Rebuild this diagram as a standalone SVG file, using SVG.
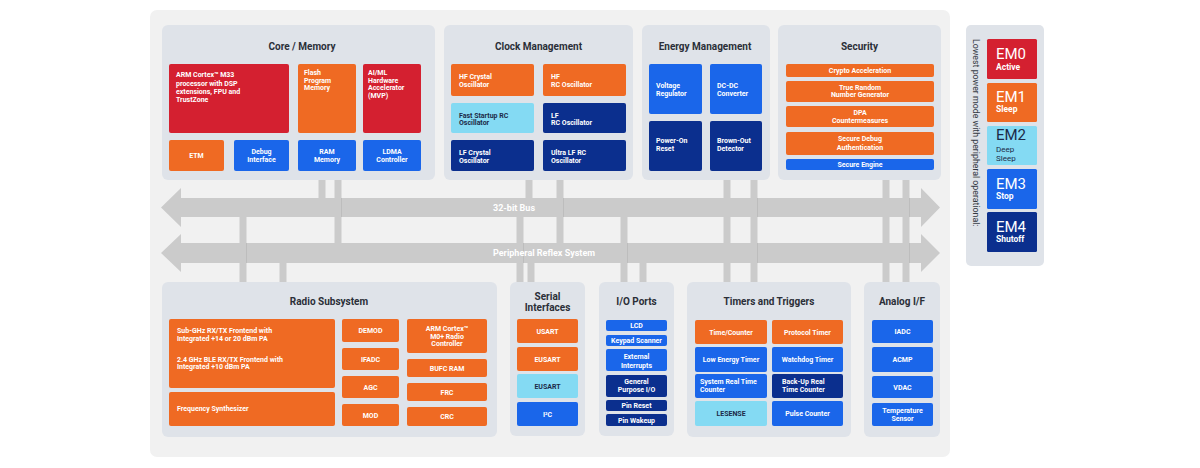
<svg xmlns="http://www.w3.org/2000/svg" width="1200" height="468" viewBox="0 0 1200 468">
<style>
.panel{fill:#dfe3e9}
.red{fill:#d42030}.org{fill:#ef6a23}.blu{fill:#1a66ea}.nav{fill:#0b2f8e}.cya{fill:#84daf3}
text{font-family:Roboto,"Liberation Sans",Arial,sans-serif}
.title{font-size:10px;font-weight:700;fill:#2b2f38;text-anchor:middle}
.t{font-size:7px;font-weight:700;fill:#ffffff}
.c{text-anchor:middle}
.d{fill:#1c2a48}
.bus{fill:#cbcbcb}
.vl{stroke:#cbcbcb;stroke-width:7;fill:none}
.edge{stroke:#b9b9b9;stroke-width:0.8;fill:none}
.bt{font-size:9px;font-weight:700;fill:#ffffff}
.em{font-size:15px;font-weight:400;fill:#ffffff}
.ems{font-size:8.5px;font-weight:700;fill:#ffffff}
</style>
<rect x="0" y="0" width="1200" height="468" fill="#ffffff"/>
<rect id="chip" x="150" y="10" width="800" height="447" rx="7" fill="#f1f1f1"/>

<g id="connectors">
  <line class="vl" x1="322" y1="179" x2="322" y2="199"/>
  <line class="vl" x1="338" y1="179" x2="338" y2="245"/>
  <line class="vl" x1="529" y1="179" x2="529" y2="199"/>
  <line class="vl" x1="560" y1="179" x2="560" y2="245"/>
  <line class="vl" x1="727" y1="179" x2="727" y2="283"/>
  <line class="vl" x1="754" y1="179" x2="754" y2="283"/>
  <line class="vl" x1="886" y1="179" x2="886" y2="283"/>
  <line class="vl" x1="906" y1="179" x2="906" y2="283"/>
  <line class="vl" x1="243" y1="215" x2="243" y2="283"/>
  <line class="vl" x1="283" y1="261" x2="283" y2="283"/>
  <line class="vl" x1="520" y1="215" x2="520" y2="283"/>
  <line class="vl" x1="531" y1="261" x2="531" y2="283"/>
  <line class="vl" x1="624" y1="215" x2="624" y2="283"/>
  <line class="vl" x1="643" y1="261" x2="643" y2="283"/>
  <polygon id="bus32" class="bus" points="161,207.5 181,188 181,198 921,198 921,188 940,207.5 921,227 921,217 181,217 181,227"/>
  <polygon id="prs" class="bus" points="161,253 181,234 181,243 921,243 921,234 940,253 921,272 921,263 181,263 181,272"/>
  <line class="edge" x1="341.5" y1="198" x2="341.5" y2="217"/>
  <line class="edge" x1="563.5" y1="198" x2="563.5" y2="217"/>
  <line class="edge" x1="757.5" y1="198" x2="757.5" y2="217"/>
  <line class="edge" x1="909.5" y1="198" x2="909.5" y2="217"/>
  <line class="edge" x1="246.5" y1="243" x2="246.5" y2="263"/>
  <line class="edge" x1="523.5" y1="243" x2="523.5" y2="263"/>
  <line class="edge" x1="627.5" y1="243" x2="627.5" y2="263"/>
  <line class="edge" x1="757.5" y1="243" x2="757.5" y2="263"/>
  <line class="edge" x1="909.5" y1="243" x2="909.5" y2="263"/>
  <text class="bt" x="493" y="210.5">32-bit Bus</text>
  <text class="bt" x="493" y="256">Peripheral Reflex System</text>
</g>

<g id="core-memory">
  <rect class="panel" x="162" y="25" width="273" height="155" rx="6"/>
  <text class="title" x="302" y="49.5">Core / Memory</text>
  <g id="arm-m33"><rect class="red" x="169" y="64" width="120" height="69" rx="2"/>
    <text class="t" x="176" y="77">ARM Cortex™ M33</text><text class="t" x="176" y="85.5">processor with DSP</text><text class="t" x="176" y="94">extensions, FPU and</text><text class="t" x="176" y="102">TrustZone</text></g>
  <g id="flash"><rect class="org" x="298" y="64" width="58" height="69" rx="2"/>
    <text class="t" x="304" y="74.5">Flash</text><text class="t" x="304" y="82.5">Program</text><text class="t" x="304" y="90">Memory</text></g>
  <g id="aiml"><rect class="red" x="363" y="64" width="58" height="69" rx="2"/>
    <text class="t" x="368" y="74.5">AI/ML</text><text class="t" x="368" y="82.5">Hardware</text><text class="t" x="368" y="90">Accelerator</text><text class="t" x="368" y="98">(MVP)</text></g>
  <g id="etm"><rect class="org" x="169" y="140" width="55" height="31" rx="2"/>
    <text class="t c" x="196.5" y="157.5">ETM</text></g>
  <g id="debug"><rect class="blu" x="234" y="140" width="55" height="31" rx="2"/>
    <text class="t c" x="261.5" y="153.5">Debug</text><text class="t c" x="261.5" y="161.5">Interface</text></g>
  <g id="ram"><rect class="blu" x="298" y="140" width="58" height="31" rx="2"/>
    <text class="t c" x="327" y="153.5">RAM</text><text class="t c" x="327" y="161.5">Memory</text></g>
  <g id="ldma"><rect class="blu" x="363" y="140" width="58" height="31" rx="2"/>
    <text class="t c" x="392" y="153.5">LDMA</text><text class="t c" x="392" y="161.5">Controller</text></g>
</g>

<g id="clock-management">
  <rect class="panel" x="444" y="25" width="189" height="155" rx="6"/>
  <text class="title" x="538.5" y="49.5">Clock Management</text>
  <g id="hfxo"><rect class="org" x="451" y="64" width="83" height="32" rx="2"/>
    <text class="t" x="459" y="79">HF Crystal</text><text class="t" x="459" y="86.5">Oscillator</text></g>
  <g id="hfrco"><rect class="org" x="543" y="64" width="83" height="32" rx="2"/>
    <text class="t" x="551" y="79">HF</text><text class="t" x="551" y="86.5">RC Oscillator</text></g>
  <g id="fsrco"><rect class="cya" x="451" y="103" width="83" height="30" rx="2"/>
    <text class="t d" x="459" y="117.5">Fast Startup RC</text><text class="t d" x="459" y="124.5">Oscillator</text></g>
  <g id="lfrco"><rect class="nav" x="543" y="103" width="83" height="30" rx="2"/>
    <text class="t" x="551" y="117.5">LF</text><text class="t" x="551" y="124.5">RC Oscillator</text></g>
  <g id="lfxo"><rect class="nav" x="451" y="140" width="83" height="31" rx="2"/>
    <text class="t" x="459" y="154.5">LF Crystal</text><text class="t" x="459" y="162.5">Oscillator</text></g>
  <g id="ulfrco"><rect class="nav" x="543" y="140" width="83" height="31" rx="2"/>
    <text class="t" x="551" y="154.5">Ultra LF RC</text><text class="t" x="551" y="162.5">Oscillator</text></g>
</g>

<g id="energy-management">
  <rect class="panel" x="642" y="25" width="128" height="155" rx="6"/>
  <text class="title" x="705" y="49.5">Energy Management</text>
  <g id="vreg"><rect class="blu" x="649" y="64" width="53" height="50" rx="2"/>
    <text class="t" x="656" y="87.5">Voltage</text><text class="t" x="656" y="95.5">Regulator</text></g>
  <g id="dcdc"><rect class="blu" x="710" y="64" width="52" height="50" rx="2"/>
    <text class="t" x="717" y="87.5">DC-DC</text><text class="t" x="717" y="95.5">Converter</text></g>
  <g id="por"><rect class="nav" x="649" y="121" width="53" height="50" rx="2"/>
    <text class="t" x="656" y="143">Power-On</text><text class="t" x="656" y="150.5">Reset</text></g>
  <g id="bod"><rect class="nav" x="710" y="121" width="52" height="50" rx="2"/>
    <text class="t" x="717" y="143">Brown-Out</text><text class="t" x="717" y="150.5">Detector</text></g>
</g>

<g id="security">
  <rect class="panel" x="778" y="25" width="163" height="155" rx="6"/>
  <text class="title" x="859.5" y="49.5">Security</text>
  <g id="crypto"><rect class="org" x="786" y="64" width="148" height="13" rx="2"/>
    <text class="t c" x="860" y="73">Crypto Acceleration</text></g>
  <g id="trng"><rect class="org" x="786" y="81" width="148" height="21" rx="2"/>
    <text class="t c" x="860" y="89.5">True Random</text><text class="t c" x="860" y="96.5">Number Generator</text></g>
  <g id="dpa"><rect class="org" x="786" y="106" width="148" height="21" rx="2"/>
    <text class="t c" x="860" y="114.5">DPA</text><text class="t c" x="860" y="122.5">Countermeasures</text></g>
  <g id="sda"><rect class="org" x="786" y="132" width="148" height="23" rx="2"/>
    <text class="t c" x="860" y="141">Secure Debug</text><text class="t c" x="860" y="149.5">Authentication</text></g>
  <g id="se"><rect class="blu" x="786" y="159" width="148" height="11" rx="2"/>
    <text class="t c" x="860" y="167">Secure Engine</text></g>
</g>

<g id="energy-modes">
  <rect class="panel" x="966" y="25" width="78" height="241" rx="5"/>
  <text x="972.5" y="39" transform="rotate(90 972.5 39)" style="font-size:8.8px;fill:#333842">Lowest power mode with peripheral operational:</text>
  <g id="em0"><rect class="red" x="987" y="39" width="50" height="40" rx="1.5"/>
    <text class="em" x="996" y="59">EM0</text><text class="ems" x="996" y="70">Active</text></g>
  <g id="em1"><rect class="org" x="987" y="83" width="50" height="39" rx="1.5"/>
    <text class="em" x="996" y="102">EM1</text><text class="ems" x="996" y="112">Sleep</text></g>
  <g id="em2"><rect class="cya" x="987" y="126" width="50" height="39" rx="1.5"/>
    <text class="em" x="996" y="140" style="fill:#1c2a48">EM2</text><text x="996" y="151.5" style="font-size:8px;fill:#1c2a48">Deep</text><text x="996" y="160.5" style="font-size:8px;fill:#1c2a48">Sleep</text></g>
  <g id="em3"><rect class="blu" x="987" y="169" width="50" height="40" rx="1.5"/>
    <text class="em" x="996" y="188.5">EM3</text><text class="ems" x="996" y="198.5">Stop</text></g>
  <g id="em4"><rect class="nav" x="987" y="212" width="50" height="40" rx="1.5"/>
    <text class="em" x="996" y="232">EM4</text><text class="ems" x="996" y="242">Shutoff</text></g>
</g>

<g id="radio-subsystem">
  <rect class="panel" x="162" y="282" width="335" height="155" rx="6"/>
  <text class="title" x="329" y="305">Radio Subsystem</text>
  <g id="frontend"><rect class="org" x="169" y="319" width="166" height="69" rx="2"/>
    <text class="t" x="177" y="333">Sub-GHz RX/TX Frontend with</text><text class="t" x="177" y="341">Integrated +14 or 20 dBm PA</text>
    <text class="t" x="177" y="361.5">2.4 GHz BLE RX/TX Frontend with</text><text class="t" x="177" y="369">Integrated +10 dBm PA</text></g>
  <g id="synth"><rect class="org" x="169" y="392" width="166" height="34" rx="2"/>
    <text class="t" x="177" y="411">Frequency Synthesizer</text></g>
  <g id="demod"><rect class="org" x="342" y="319" width="57" height="23" rx="2"/><text class="t c" x="370.5" y="333">DEMOD</text></g>
  <g id="ifadc"><rect class="org" x="342" y="348" width="57" height="22" rx="2"/><text class="t c" x="370.5" y="361.5">IFADC</text></g>
  <g id="agc"><rect class="org" x="342" y="376" width="57" height="22" rx="2"/><text class="t c" x="370.5" y="389.5">AGC</text></g>
  <g id="mod"><rect class="org" x="342" y="404" width="57" height="22" rx="2"/><text class="t c" x="370.5" y="417.5">MOD</text></g>
  <g id="m0"><rect class="org" x="407" y="319" width="80" height="34" rx="2"/>
    <text class="t c" x="447" y="330.5">ARM Cortex™</text><text class="t c" x="447" y="338.5">M0+ Radio</text><text class="t c" x="447" y="346">Controller</text></g>
  <g id="bufc"><rect class="org" x="407" y="359" width="80" height="18" rx="2"/><text class="t c" x="447" y="370.5">BUFC RAM</text></g>
  <g id="frc"><rect class="org" x="407" y="383" width="80" height="18" rx="2"/><text class="t c" x="447" y="394.5">FRC</text></g>
  <g id="crc"><rect class="org" x="407" y="407" width="80" height="19" rx="2"/><text class="t c" x="447" y="419">CRC</text></g>
</g>

<g id="serial-interfaces">
  <rect class="panel" x="510" y="282" width="75" height="154" rx="6"/>
  <text class="title" x="547.5" y="299.5">Serial</text><text class="title" x="547.5" y="310.5">Interfaces</text>
  <g id="usart"><rect class="org" x="517" y="319" width="61" height="24" rx="2"/><text class="t c" x="547.5" y="333.5">USART</text></g>
  <g id="eusart1"><rect class="org" x="517" y="347" width="61" height="24" rx="2"/><text class="t c" x="547.5" y="361.5">EUSART</text></g>
  <g id="eusart2"><rect class="cya" x="517" y="374" width="61" height="24" rx="2"/><text class="t c d" x="547.5" y="388.5">EUSART</text></g>
  <g id="i2c"><rect class="blu" x="517" y="402" width="61" height="24" rx="2"/><text class="t c" x="547.5" y="416.5">I²C</text></g>
</g>

<g id="io-ports">
  <rect class="panel" x="599" y="282" width="75" height="154" rx="6"/>
  <text class="title" x="636.5" y="304.5">I/O Ports</text>
  <g id="lcd"><rect class="blu" x="606" y="320" width="61" height="11" rx="2"/><text class="t c" x="636.5" y="328">LCD</text></g>
  <g id="keypad"><rect class="blu" x="606" y="335" width="61" height="11" rx="2"/><text class="t c" x="636.5" y="343">Keypad Scanner</text></g>
  <g id="extint"><rect class="blu" x="606" y="349" width="61" height="22" rx="2"/><text class="t c" x="636.5" y="359">External</text><text class="t c" x="636.5" y="367.5">Interrupts</text></g>
  <g id="gpio"><rect class="nav" x="606" y="375" width="61" height="22" rx="2"/><text class="t c" x="636.5" y="384">General</text><text class="t c" x="636.5" y="392">Purpose I/O</text></g>
  <g id="pinreset"><rect class="nav" x="606" y="400" width="61" height="11" rx="2"/><text class="t c" x="636.5" y="408">Pin Reset</text></g>
  <g id="pinwakeup"><rect class="nav" x="606" y="414" width="61" height="12" rx="2"/><text class="t c" x="636.5" y="422.5">Pin Wakeup</text></g>
</g>

<g id="timers-triggers">
  <rect class="panel" x="687" y="282" width="164" height="155" rx="6"/>
  <text class="title" x="769" y="304.5">Timers and Triggers</text>
  <g id="timer"><rect class="org" x="695" y="320" width="72" height="24" rx="2"/><text class="t c" x="731" y="334.5">Time/Counter</text></g>
  <g id="prot"><rect class="org" x="772" y="320" width="71" height="24" rx="2"/><text class="t c" x="807.5" y="334.5">Protocol Timer</text></g>
  <g id="letimer"><rect class="blu" x="695" y="347" width="72" height="25" rx="2"/><text class="t c" x="731" y="361.5">Low Energy Timer</text></g>
  <g id="wdog"><rect class="blu" x="772" y="347" width="71" height="25" rx="2"/><text class="t c" x="807.5" y="361.5">Watchdog Timer</text></g>
  <g id="sysrtc"><rect class="blu" x="695" y="374" width="72" height="24" rx="2"/><text class="t" x="700" y="383.5">System Real Time</text><text class="t" x="700" y="391.5">Counter</text></g>
  <g id="burtc"><rect class="nav" x="772" y="374" width="71" height="24" rx="2"/><text class="t" x="782" y="383.5">Back-Up Real</text><text class="t" x="782" y="391.5">Time Counter</text></g>
  <g id="lesense"><rect class="cya" x="695" y="401" width="72" height="25" rx="2"/><text class="t c d" x="731" y="416">LESENSE</text></g>
  <g id="pcnt"><rect class="blu" x="772" y="401" width="71" height="25" rx="2"/><text class="t c" x="807.5" y="416">Pulse Counter</text></g>
</g>

<g id="analog-if">
  <rect class="panel" x="864" y="282" width="76" height="155" rx="6"/>
  <text class="title" x="902" y="304.5">Analog I/F</text>
  <g id="iadc"><rect class="blu" x="872" y="320" width="61" height="23" rx="2"/><text class="t c" x="902.5" y="334">IADC</text></g>
  <g id="acmp"><rect class="blu" x="872" y="347" width="61" height="25" rx="2"/><text class="t c" x="902.5" y="362">ACMP</text></g>
  <g id="vdac"><rect class="blu" x="872" y="376" width="61" height="22" rx="2"/><text class="t c" x="902.5" y="390">VDAC</text></g>
  <g id="tempsense"><rect class="blu" x="872" y="403" width="61" height="23" rx="2"/><text class="t c" x="902.5" y="412.5">Temperature</text><text class="t c" x="902.5" y="420.5">Sensor</text></g>
</g>
</svg>
